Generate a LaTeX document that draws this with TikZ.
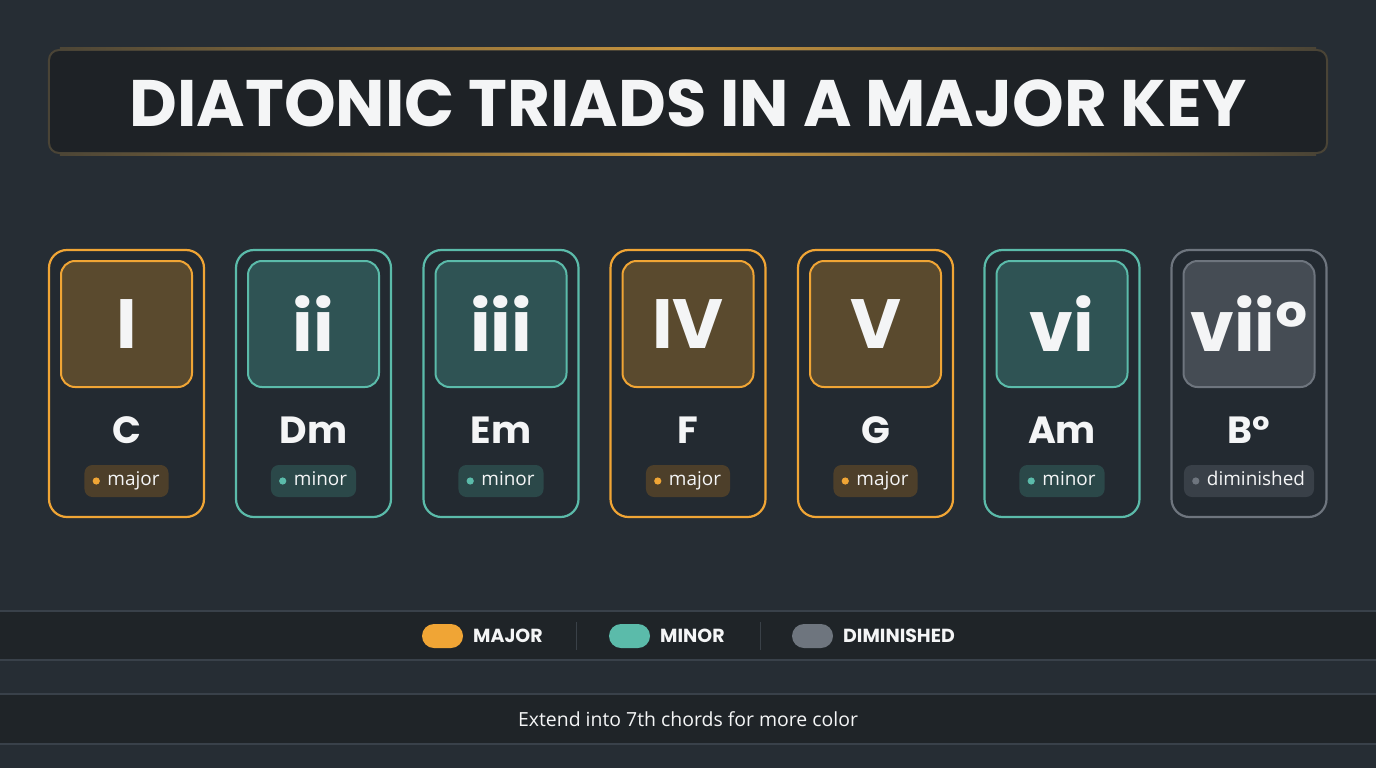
\documentclass[tikz,border=0pt]{standalone}
\usepackage{fontspec}
\newfontfamily\pop{Poppins}
\newfontfamily\osans{Open Sans}
\usetikzlibrary{positioning}
\definecolor{bg}{HTML}{262D34}
\definecolor{titlefill}{HTML}{1E2226}
\definecolor{gold}{HTML}{C9963F}
\definecolor{golddim}{HTML}{4A4436}
\definecolor{cardfill}{HTML}{232A31}
\definecolor{bandfill}{HTML}{1F2428}
\definecolor{bandline}{HTML}{39414A}
\definecolor{sepline}{HTML}{3A4148}
\definecolor{major-line}{HTML}{F0A535}
\definecolor{major-fill}{HTML}{5A4A2E}
\definecolor{major-badge}{HTML}{4D3F2A}
\definecolor{minor-line}{HTML}{5BBBAA}
\definecolor{minor-fill}{HTML}{2F5354}
\definecolor{minor-badge}{HTML}{2B4849}
\definecolor{dim-line}{HTML}{6E757E}
\definecolor{dim-fill}{HTML}{454C54}
\definecolor{dim-badge}{HTML}{394048}
\definecolor{txt}{HTML}{F4F5F6}
\tikzset{
  cardbox/.style={draw, line width=2.2bp, rounded corners=18bp, minimum width=155bp, minimum height=267bp, inner sep=0pt, fill=cardfill},
  numbox/.style={draw, line width=2bp, rounded corners=14bp, minimum width=131bp, minimum height=126bp, inner sep=0pt, text=txt, font=\pop\bfseries\fontsize{70}{70}\selectfont},
  chordtxt/.style={text=txt, font=\pop\bfseries\fontsize{38}{38}\selectfont, inner sep=0pt},
  badgebox/.style={rounded corners=8bp, minimum height=32bp, inner xsep=9bp, inner ysep=0pt, text height=13.5bp, text depth=4.5bp, text=txt, font=\osans\fontsize{19}{19}\selectfont},
  legpill/.style={rounded corners=12bp, minimum width=41bp, minimum height=24bp, inner sep=0pt},
  legtxt/.style={text=txt, font=\pop\bfseries\fontsize{19}{19}\selectfont, inner sep=0pt, anchor=west},
}
\begin{document}
\begin{tikzpicture}[x=1bp, y=-1bp]
\fill[bg] (0,0) rectangle (1376,768);
\useasboundingbox (0,0) rectangle (1376,768);
% title
\node[draw=golddim, line width=2bp, fill=titlefill, rounded corners=10bp, minimum width=1278bp, minimum height=103bp, inner sep=0pt] (titlebox) at (688,101.5) {};
\shade[left color=golddim, right color=golddim, middle color=gold] (titlebox.north west) ++(12,-1) rectangle ([xshift=-12bp, yshift=-1bp]titlebox.north east);
\shade[left color=golddim, right color=golddim, middle color=gold] (titlebox.south west) ++(12,-1) rectangle ([xshift=-12bp, yshift=-1bp]titlebox.south east);
\node[text=txt, font=\pop\bfseries\fontsize{66}{66}\selectfont, inner sep=0pt] (title) at (688,103) {DIATONIC TRIADS IN A MAJOR KEY};
% cards
\foreach \i/\cx/\num/\ch/\ty/\lab in {1/126.5/I/C/major/major, 2/313.5/ii/Dm/minor/minor, 3/501/iii/Em/minor/minor, 4/688/IV/F/major/major, 5/875.5/V/G/major/major, 6/1062/vi/Am/minor/minor, 7/1249/vii°/B°/dim/diminished}{
  \node[cardbox, draw=\ty-line] (card\i) at (\cx,383.5) {};
  \node[numbox, draw=\ty-line, fill=\ty-fill] (num\i) at (\cx,324) {\num};
  \node[chordtxt] (chord\i) at (\cx,430) {\ch};
  \node[badgebox, fill=\ty-badge] (badge\i) at (\cx,481) {\hspace{14bp}\lab};
  \fill[\ty-line] ([xshift=12bp]badge\i.west) circle (3.6bp);
}
% legend band
\fill[bandfill] (0,611) rectangle (1376,660);
\draw[bandline, line width=2.5bp] (0,611) -- (1376,611);
\draw[bandline, line width=2.5bp] (0,660) -- (1376,660);
\node[legpill, fill=major-line] (pmaj) at (442.5,636) {};
\node[legtxt] (tmaj) at (473,636) {MAJOR};
\node[legpill, fill=minor-line] (pmin) at (629.5,636) {};
\node[legtxt] (tmin) at (660,636) {MINOR};
\node[legpill, fill=dim-line] (pdim) at (812.5,636) {};
\node[legtxt] (tdim) at (843,636) {DIMINISHED};
\coordinate (s1a) at (576,622); \coordinate (s1b) at (576,650);
\coordinate (s2a) at (760,622); \coordinate (s2b) at (760,650);
\draw[sepline, line width=1bp] (s1a) -- (s1b);
\draw[sepline, line width=1bp] (s2a) -- (s2b);
% footer band
\fill[bandfill] (0,694) rectangle (1376,744);
\draw[bandline, line width=2.5bp] (0,694) -- (1376,694);
\draw[bandline, line width=2.5bp] (0,744) -- (1376,744);
\node[text=txt, font=\osans\fontsize{19.5}{19.5}\selectfont, inner sep=0pt] (foot) at (688,719) {Extend into 7th chords for more color};
\end{tikzpicture}
\end{document}
